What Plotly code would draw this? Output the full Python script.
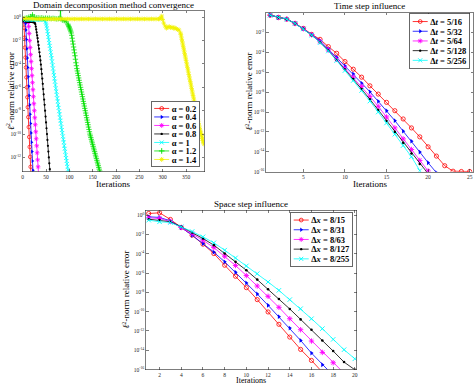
import plotly.graph_objects as go

W, H = 474, 385

# ---------------- Domain decomposition method convergence (log10 of error) ----------------
alpha_names = ["α = 0.2", "α = 0.4", "α = 0.6", "α = 0.8", "α = 1", "α = 1.2", "α = 1.4"]

a02_it = list(range(1, 19))
a02_log = [-0.3, -0.35, -0.9, -1.75, -2.6, -3.45, -4.3, -5.15, -6.0, -6.85, -7.7, -8.55,
           -9.4, -10.25, -11.1, -11.95, -12.8, -13.65]

a04_it = list(range(1, 24))
a04_log = [-0.3, -0.3, -0.32, -0.35, -0.4, -0.55, -1.1, -1.9, -2.7, -3.5, -4.3, -5.1, -5.9,
           -6.7, -7.5, -8.3, -9.1, -9.9, -10.7, -11.5, -12.3, -13.1, -13.9]

a06_it = list(range(1, 36))
a06_log = [-0.2, -0.22, -0.25, -0.25, -0.27, -0.28, -0.28, -0.3, -0.3, -0.32, -0.35, -0.45,
           -0.8, -1.4, -2.0, -2.6, -3.2, -3.8, -4.4, -5.0, -5.6, -6.2, -6.8, -7.4, -8.0, -8.6,
           -9.2, -9.8, -10.4, -11.0, -11.6, -12.2, -12.8, -13.4, -14.0]

a08_it = list(range(1, 60))
a08_log = [-0.3, -0.32, -0.35, -0.35, -0.36, -0.37, -0.37, -0.38, -0.38, -0.38, -0.39, -0.39,
           -0.39, -0.4, -0.4, -0.4, -0.4, -0.41, -0.41, -0.41, -0.42, -0.42, -0.43, -0.44,
           -0.46, -0.5, -0.6,
           -0.8, -1.05, -1.3, -1.55, -1.8, -2.1, -2.4, -2.7, -3.0, -3.35, -3.7, -4.05, -4.45,
           -4.85, -5.25, -5.7, -6.15, -6.6, -7.05, -7.5, -8.0, -8.5, -9.0, -9.5, -10.0, -10.5,
           -11.0, -11.5, -12.0, -12.5, -13.0, -13.5]

a10_it = list(range(1, 47, 3)) + list(range(49, 100))
a10_log = [-0.25, -0.2, -0.22, -0.25, -0.22, -0.2, -0.23, -0.25, -0.22, -0.2, -0.22, -0.24,
           -0.22, -0.2, -0.22, -0.25,
           -0.4, -0.55, -0.75, -0.95, -1.2, -1.45, -1.7, -1.95, -2.2, -2.45,
           -2.7, -3.0, -3.25, -3.5, -3.8, -4.1, -4.4, -4.7, -4.95, -5.25,
           -5.5, -5.8, -6.1, -6.35, -6.65, -6.95, -7.2, -7.5, -7.75, -8.05,
           -8.3, -8.6, -8.85, -9.1, -9.4, -9.65, -9.9, -10.2, -10.45, -10.7,
           -11.0, -11.25, -11.5, -11.8, -12.05, -12.3, -12.55, -12.8, -13.05, -13.3,
           -13.55]

a12_it = list(range(1, 78, 4)) + [80, 81, 82, 85, 89, 93] + list(range(97, 167))
a12_log = [-0.15, -0.1, -0.05, 0.0, 0.05, 0.2, 0.0, -0.05, -0.05, -0.08, -0.05, -0.1, -0.08,
           -0.1, -0.08, -0.12, -0.1, -0.12, -0.15, -0.12,
           -0.1, 0.55, -0.15, -0.25, -0.3, -0.4,
           -0.6, -0.7, -0.8, -0.9, -1.0, -1.1, -1.2, -1.35, -1.55, -1.8,
           -2.05, -2.3, -2.55, -2.8, -3.05, -3.3, -3.6, -3.9, -4.15, -4.4,
           -4.6, -4.8, -5.0, -5.2, -5.4, -5.6, -5.8, -6.0, -6.2, -6.4,
           -6.6, -6.8, -7.0, -7.2, -7.4, -7.6, -7.8, -8.0, -8.2, -8.4,
           -8.6, -8.8, -9.0, -9.2, -9.4, -9.6, -9.8, -10.0, -10.15, -10.3,
           -10.45, -10.6, -10.75, -10.9, -11.05, -11.2, -11.35, -11.5, -11.65, -11.8,
           -11.95, -12.1, -12.25, -12.4, -12.55, -12.7, -12.85, -13.0, -13.15, -13.3]

a14_it = (list(range(1, 292, 5))
          + [294, 296, 298, 300, 302, 305, 308, 311, 314, 317, 320, 323, 326, 329, 332, 335, 338]
          + list(range(339, 389)))
a14_log = [-0.1, -0.12, -0.13, -0.14, -0.15, -0.15, -0.16, -0.15, -0.16, -0.15,
           -0.16, -0.15, -0.16, -0.15, -0.16, -0.15, -0.16, -0.15, -0.16, -0.15,
           -0.16, -0.15, -0.16, -0.15, -0.16, -0.15, -0.16, -0.15, -0.16, -0.15,
           -0.16, -0.15, -0.16, -0.15, -0.16, -0.15, -0.16, -0.15, -0.16, -0.15,
           -0.16, -0.15, -0.16, -0.15, -0.16, -0.15, -0.16, -0.15, -0.16, -0.15,
           -0.16, -0.15, -0.16, -0.15, -0.16, -0.15, -0.16, -0.15, -0.16,
           -0.15, -0.05, 0.1, -0.2, -0.5, -0.75, -0.95, -0.85, -0.8, -0.9, -0.85, -0.95,
           -0.9, -1.0, -1.05, -1.1, -1.35,
           -1.5, -1.7, -1.9, -2.1, -2.3, -2.5, -2.7, -2.9, -3.1, -3.3,
           -3.5, -3.7, -3.9, -4.1, -4.3, -4.5, -4.7, -4.9, -5.1, -5.3,
           -5.5, -5.7, -5.9, -6.1, -6.3, -6.5, -6.7, -6.9, -7.1, -7.3,
           -7.5, -7.7, -7.9, -8.1, -8.3, -8.5, -8.7, -8.9, -9.1, -9.3,
           -9.5, -9.65, -9.8, -9.95, -10.1, -10.25, -10.4, -10.55, -10.7, -10.85]

# ---------------- Time step influence ----------------
dt_names = ["Δ<i>t</i> = 5/16", "Δ<i>t</i> = 5/32", "Δ<i>t</i> = 5/64", "Δ<i>t</i> = 5/128", "Δ<i>t</i> = 5/256"]
dt16_log = [-0.27, -0.5, -0.67, -1.1, -1.6, -2.2, -2.7, -3.43, -4.1, -4.93, -5.7, -6.5, -7.37,
            -8.2, -9.03, -9.87, -10.7, -11.6, -12.5, -13.5, -14.43, -15.4, -15.95, -15.98, -15.98]
dt32_log = [-0.27, -0.5, -0.67, -1.1, -1.62, -2.22, -2.83, -3.67, -4.5, -5.37, -6.17, -7.1,
            -7.97, -8.93, -9.87, -10.87, -11.93, -12.93, -14.03, -15.1, -16.1]
dt64_log = [-0.27, -0.5, -0.67, -1.1, -1.63, -2.25, -2.93, -3.77, -4.7, -5.6, -6.5, -7.43,
            -8.43, -9.43, -10.5, -11.6, -12.7, -13.77, -14.87, -15.93]
dt128_log = [-0.27, -0.5, -0.67, -1.1, -1.64, -2.27, -3.0, -3.83, -4.77, -5.73, -6.7, -7.7,
             -8.73, -9.8, -10.9, -12.0, -13.1, -14.17, -15.23, -16.2]
dt256_log = [-0.27, -0.5, -0.67, -1.1, -1.65, -2.28, -3.03, -3.87, -4.83, -5.83, -6.83, -7.83,
             -8.9, -10.0, -11.1, -12.23, -13.37, -14.5, -15.9]

# ---------------- Space step influence ----------------
dx_names = ["Δ<i>x</i> = 8/15", "Δ<i>x</i> = 8/31", "Δ<i>x</i> = 8/63", "Δ<i>x</i> = 8/127", "Δ<i>x</i> = 8/255"]
dx15_log = [0.17, 0.24, -0.45, -1.28, -2.08, -3.01, -3.98, -5.19, -6.33, -7.51, -8.75, -10.03,
            -11.31, -12.63, -13.91, -15.05, -16.26]
dx31_log = [-0.17, -0.24, -0.59, -1.28, -2.08, -2.94, -3.84, -4.84, -5.92, -7.02, -8.17, -9.34,
            -10.52, -11.7, -12.98, -14.29, -15.5, -16.6]
dx63_log = [-0.28, -0.35, -0.66, -1.28, -1.9, -2.6, -3.36, -4.26, -5.22, -6.26, -7.34, -8.41,
            -9.55, -10.73, -11.87, -13.04, -14.22, -15.29, -16.37]
dx127_log = [-0.42, -0.52, -0.69, -1.21, -1.8, -2.42, -3.11, -3.98, -4.84, -5.71, -6.68, -7.68,
             -8.69, -9.72, -10.8, -11.87, -12.98, -14.08, -15.22, -16.02]
dx255_log = [-0.52, -0.69, -0.76, -1.21, -1.7, -2.25, -2.87, -3.63, -4.43, -5.26, -6.06, -6.92,
             -7.79, -8.75, -9.69, -10.73, -11.76, -12.87, -13.94, -14.88]

# tick values
tl_xticks = [0, 50, 100, 150, 200, 250, 300, 350]
tr_xticks = [5, 10, 15, 20, 25]
b_xticks = [2, 4, 6, 8, 10, 12, 14, 16, 18, 20]
tl_yexp = [0, -2, -4, -6, -8, -10, -12]
tr_yexp = [-2, -4, -6, -8, -10, -12, -14, -16]
b_yexp = [0, -2, -4, -6, -8, -10, -12, -14, -16]

# ---------------- styles ----------------
colors = ['#ff0000', '#0000ff', '#ff00ff', '#000000', '#00ffff', '#00e000', '#f2f200']
symbols = ['circle-open', 'triangle-right', 'asterisk-open', 'circle', 'x-thin-open',
           'cross-thin-open', 'asterisk-open']
msizes = [4.2, 4.2, 4.5, 2.6, 4.5, 4.5, 4.5]
mlw = [0.8, 0, 0.9, 0, 0.9, 0.9, 0.9]
FONT = 'Liberation Serif'
INK = '#262626'

fig = go.Figure()


def add_series(xs, logs, name, i, xa, ya, leg, scale=1.0):
    c = colors[i]
    ys = [10 ** v for v in logs]
    fig.add_trace(go.Scatter(
        x=xs, y=ys, mode='lines+markers', xaxis=xa, yaxis=ya, showlegend=False,
        hoverinfo='skip', line=dict(color=c, width=0.8),
        marker=dict(symbol=symbols[i], size=msizes[i] * scale, color=c,
                    line=dict(color=c, width=mlw[i] * scale))))
    fig.add_trace(go.Scatter(
        x=[None], y=[None], mode='lines+markers', xaxis=xa, yaxis=ya, name='<b>' + name + '</b>',
        legend=leg, showlegend=True, line=dict(color=c, width=1.6),
        marker=dict(symbol=symbols[i], size=msizes[i] * 1.8, color=c,
                    line=dict(color=c, width=mlw[i] * 2))))


tl_series = [(a02_it, a02_log), (a04_it, a04_log), (a06_it, a06_log), (a08_it, a08_log),
             (a10_it, a10_log), (a12_it, a12_log), (a14_it, a14_log)]
for i, (xs, ls) in enumerate(tl_series):
    add_series(xs, ls, alpha_names[i], i, 'x', 'y', 'legend', scale=0.85)

tr_series = [dt16_log, dt32_log, dt64_log, dt128_log, dt256_log]
for i, ls in enumerate(tr_series):
    add_series(list(range(1, len(ls) + 1)), ls, dt_names[i], i, 'x2', 'y2', 'legend2')

b_series = [dx15_log, dx31_log, dx63_log, dx127_log, dx255_log]
for i, ls in enumerate(b_series):
    add_series(list(range(1, len(ls) + 1)), ls, dx_names[i], i, 'x3', 'y3', 'legend3')


def px(x):
    return x / W


def py(y):
    return 1 - y / H


ax = dict(showline=True, linecolor=INK, linewidth=0.6, mirror='ticks', ticks='inside',
          ticklen=2.5, tickwidth=0.6, tickcolor=INK, showgrid=False, zeroline=False,
          tickfont=dict(family=FONT, size=5.5, color=INK))


def ylog(exps):
    return dict(type='log', tickvals=[10 ** e for e in exps],
                ticktext=['10<sup>%d</sup>' % e for e in exps])


# legends are laid out at the top-left corner, then moved/scaled by the post script
leg = dict(xref='paper', yref='paper', xanchor='left', yanchor='top', x=0, y=1,
           bgcolor='white', bordercolor=INK, borderwidth=1.4, itemwidth=30, tracegroupgap=0,
           font=dict(family=FONT, size=17, color='black'))

fig.update_layout(
    width=W, height=H,
    margin=dict(l=0, r=0, t=0, b=0, pad=0, autoexpand=False),
    paper_bgcolor='white', plot_bgcolor='white',
    font=dict(family=FONT, color=INK),
    xaxis=dict(domain=[px(22.7), px(204)], anchor='y', range=[0, 388.5], tickvals=tl_xticks, **ax),
    yaxis=dict(domain=[py(171.5), py(10.5)], anchor='x', range=[-13.2, 0.57], **ylog(tl_yexp), **ax),
    xaxis2=dict(domain=[px(266), px(473)], anchor='y2', range=[0.5, 25.4], tickvals=tr_xticks, **ax),
    yaxis2=dict(domain=[py(171.7), py(12.5)], anchor='x2', range=[-16, 0], **ylog(tr_yexp), **ax),
    xaxis3=dict(domain=[px(146), px(356.5)], anchor='y3', range=[0.75, 20.15], tickvals=b_xticks, **ax),
    yaxis3=dict(domain=[py(369.6), py(210.3)], anchor='x3', range=[-16, 0.5], **ylog(b_yexp), **ax),
    legend=dict(**leg),
    legend2=dict(**leg),
    legend3=dict(**leg),
)

annots = [
    ("Domain decomposition method convergence", 113.3, 5, 0, 9),
    ("Time step influence", 369.5, 6.5, 0, 9),
    ("Space step influence", 251, 204, 0, 9),
    ("Iterations", 113.3, 183.5, 0, 9),
    ("Iterations", 369.5, 184, 0, 9),
    ("Iterations", 251, 380.3, 0, 8),
    ("<i>ℓ</i><sup>2</sup>-norm relative error", 10, 91, -90, 9),
    ("<i>ℓ</i><sup>2</sup>-norm relative error", 248.5, 92, -90, 9),
    ("<i>ℓ</i><sup>2</sup>-norm relative error", 125.5, 290, -90, 9),
]
for t, x, y, a, s in annots:
    fig.add_annotation(text=t, x=px(x), y=py(y), xref='paper', yref='paper', showarrow=False,
                       xanchor='center', yanchor='middle', textangle=a,
                       font=dict(family=FONT, size=s, color='black'))

# legend placement (top-left corner in px) and row pitch (before the 0.5 scale)
post = r"""
document.body.style.margin = '0';
document.body.style.padding = '0';
var gd = document.getElementById('{plot_id}');
var specs = [['legend', 151, 101, 17.0], ['legend2', 409.5, 13.5, 19.4], ['legend3', 290.5, 212, 19.4]];
specs.forEach(function(sp){
  var L = gd.querySelector('g.' + sp[0]);
  if (!L) return;
  var items = L.querySelectorAll('g.traces');
  var ps = [];
  items.forEach(function(it){
    var m = /translate\(\s*([-\d.e]+)[\s,]+([-\d.e]+)\s*\)/.exec(it.getAttribute('transform') || '');
    ps.push(m ? [parseFloat(m[1]), parseFloat(m[2])] : [0, 0]);
  });
  var bg = L.querySelector('rect.bg');
  if (ps.length > 1) {
    var old = ps[1][1] - ps[0][1];
    var row = sp[3];
    var y0 = ps[0][1] - (old - row) / 2;
    items.forEach(function(it, i){
      it.setAttribute('transform', 'translate(' + ps[i][0] + ',' + (y0 + i * row) + ')');
    });
    if (bg) {
      var h = parseFloat(bg.getAttribute('height'));
      bg.setAttribute('height', h - ps.length * (old - row));
    }
  }
  var sb = L.querySelector('g.scrollbox');
  if (sb) sb.removeAttribute('clip-path');
  L.setAttribute('transform', 'translate(' + sp[1] + ',' + sp[2] + ') scale(0.5)');
});
"""

fig.write_html("out.html", post_script=post, config={'displayModeBar': False, 'staticPlot': True})
